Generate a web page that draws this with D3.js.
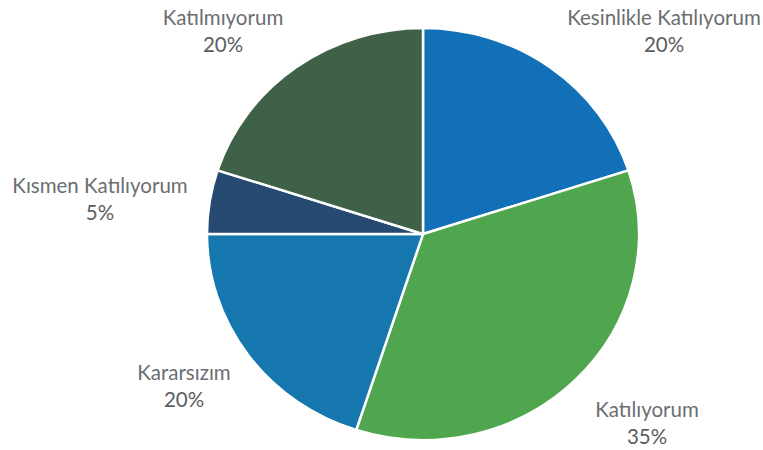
<!DOCTYPE html>
<html>
<head>
<meta charset="utf-8">
<script src="https://cdn.jsdelivr.net/npm/d3@7"></script>
<style>
  body { margin: 0; background: #fff; }
  text { font-family: Lato, "Open Sans", sans-serif; }
</style>
</head>
<body>
<div id="chart"></div>
<script>
const width = 763;
const height = 450;

// answers and shares, clockwise from 12 o'clock
const categories = ['Kesinlikle Katılıyorum', 'Katılıyorum', 'Kararsızım', 'Kısmen Katılıyorum', 'Katılmıyorum'];
const values = [20, 35, 20, 5, 20];
const colors = ['#1170b8', '#4fa64f', '#1577ad', '#264a72', '#3f6148'];

// baseline of the first line of each label
const labelPos = [[664, 25], [647, 417], [184, 380], [100, 193], [223, 25]];

const data = categories.map((c, i) => ({ name: c, value: values[i] }));

const svg = d3.select('#chart')
  .append('svg')
  .attr('width', width)
  .attr('height', height);

const cx = 423, cy = 234, r = 216;

const pie = d3.pie()
  .sort(null)
  .value(d => d.value);

const arc = d3.arc()
  .innerRadius(0)
  .outerRadius(r);

// the scan is a bit squashed vertically
const g = svg.append('g')
  .attr('transform', 'translate(' + cx + ',' + cy + ') scale(1,0.954)');

g.selectAll('path')
  .data(pie(data))
  .enter()
  .append('path')
  .attr('d', arc)
  .attr('fill', (d, i) => colors[i])
  .attr('stroke', '#fff')
  .attr('stroke-width', 2.5)
  .attr('stroke-linejoin', 'round');

const labels = svg.selectAll('.label')
  .data(data)
  .enter()
  .append('text')
  .attr('class', 'label')
  .attr('text-anchor', 'middle')
  .attr('font-size', 20.5)
  .attr('x', (d, i) => labelPos[i][0])
  .attr('y', (d, i) => labelPos[i][1]);

labels.append('tspan')
  .attr('fill', '#6a6e72')
  .text(d => d.name);

labels.append('tspan')
  .attr('x', (d, i) => labelPos[i][0])
  .attr('dy', 27)
  .attr('fill', '#5a5e61')
  .text(d => d.value + '%');
</script>
</body>
</html>
